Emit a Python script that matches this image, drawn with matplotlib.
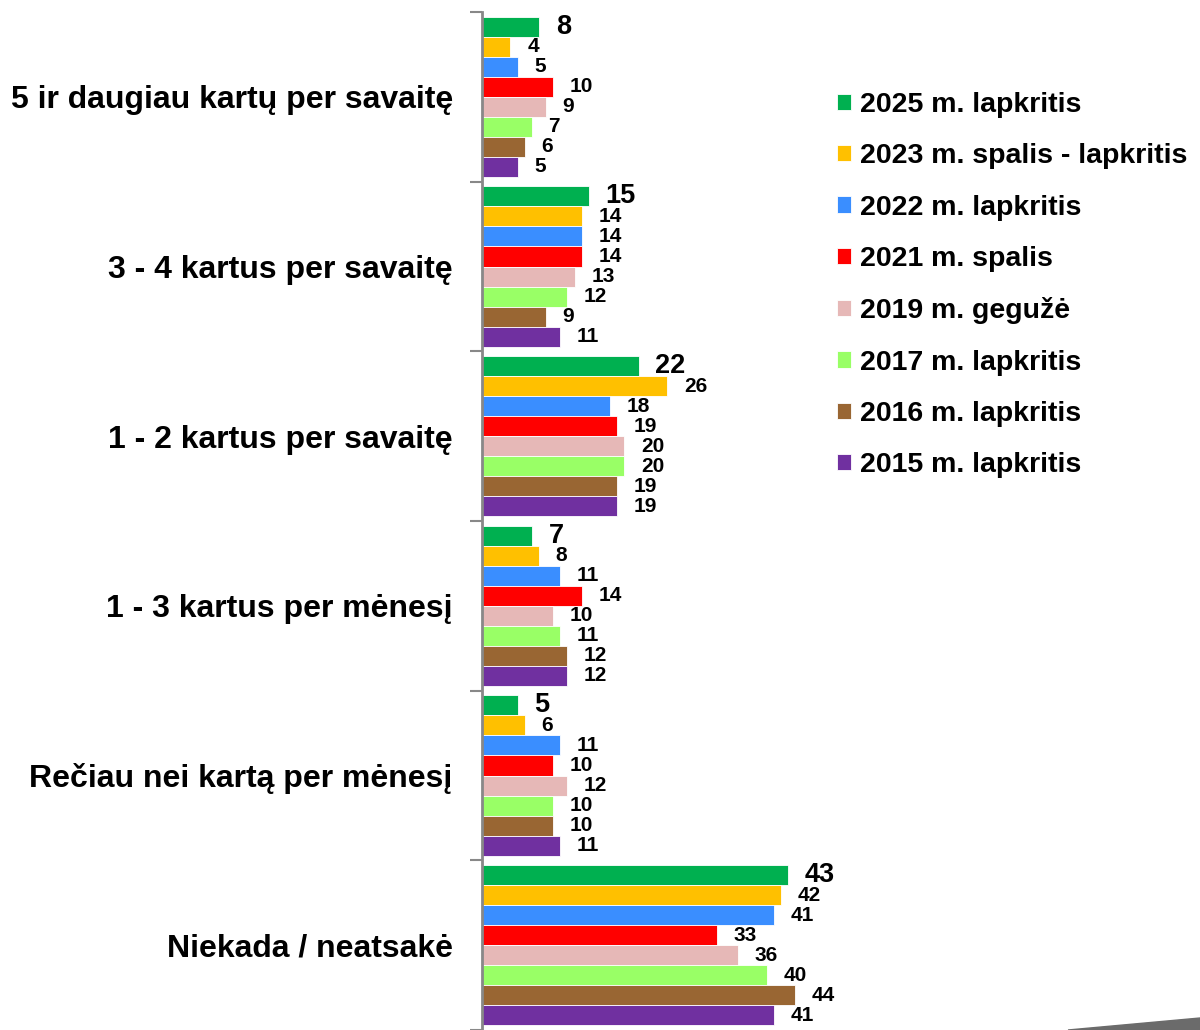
import matplotlib.pyplot as plt
import numpy as np
from matplotlib.patches import Polygon

plt.rcParams['font.family'] = ['Liberation Sans', 'DejaVu Sans']
plt.rcParams['font.weight'] = 'bold'

categories = ['5 ir daugiau kartų per savaitę', '3 - 4 kartus per savaitę',
              '1 - 2 kartus per savaitę', '1 - 3 kartus per mėnesį',
              'Rečiau nei kartą per mėnesį', 'Niekada / neatsakė']
series = ['2025 m. lapkritis', '2023 m. spalis - lapkritis', '2022 m. lapkritis',
          '2021 m. spalis', '2019 m. gegužė', '2017 m. lapkritis',
          '2016 m. lapkritis', '2015 m. lapkritis']
colors = ['#00B050', '#FFC000', '#3A8EFF', '#FF0000', '#E6B8B7', '#99FF66',
          '#996633', '#7030A0']

v2025 = [8, 15, 22, 7, 5, 43]
v2023 = [4, 14, 26, 8, 6, 42]
v2022 = [5, 14, 18, 11, 11, 41]
v2021 = [10, 14, 19, 14, 10, 33]
v2019 = [9, 13, 20, 10, 12, 36]
v2017 = [7, 12, 20, 11, 10, 40]
v2016 = [6, 9, 19, 12, 10, 44]
v2015 = [5, 11, 19, 12, 11, 41]
values = [v2025, v2023, v2022, v2021, v2019, v2017, v2016, v2015]

fig = plt.figure(figsize=(12, 10.3), dpi=100)
ax = fig.add_axes([482 / 1200, 0.0, 718 / 1200, 1 - 12 / 1030])

y = np.arange(len(categories))
bar_h = 0.118
handles = []
for j, (name, vals, c) in enumerate(zip(series, values, colors)):
    pos = y + (j - 3.5) * bar_h
    bars = ax.barh(pos, vals, height=bar_h, color=c, label=name,
                   edgecolor='white', linewidth=0.6)
    handles.append(bars)
    fs = 19.5 if j == 0 else 15
    for p, v in zip(pos, vals):
        ax.annotate(str(v), (v, p), xytext=(12, 0), textcoords='offset points',
                    ha='left', va='center', fontsize=fs, fontweight='bold')

ax.set_xlim(0, 718 / 7.12)
ax.set_ylim(len(categories) - 0.5, -0.5)

# boundaries as major ticks, category names as minor ticks
ax.set_yticks(np.arange(len(categories) + 1) - 0.5)
ax.set_yticklabels([])
ax.tick_params(axis='y', which='major', length=9, width=1.5, color='#888888')
ax.set_yticks(y, minor=True)
ax.set_yticklabels(categories, minor=True, fontsize=23, fontweight='bold')
ax.tick_params(axis='y', which='minor', length=0, pad=21)
ax.set_xticks([])
for s in ['top', 'right', 'bottom']:
    ax.spines[s].set_visible(False)
ax.spines['left'].set_color('#888888')
ax.spines['left'].set_linewidth(2)

fig.legend(handles=handles, loc='upper left',
           bbox_to_anchor=(837 / 1200, 1 - 92 / 1030), frameon=False,
           fontsize=20.5, handlelength=0.5, handleheight=0.5,
           handletextpad=0.3, labelspacing=0.89, borderpad=0, borderaxespad=0)

# grey shadow wedge in the lower right corner
fig.patches.append(Polygon([[1068 / 1200, 0], [1, 12 / 1030], [1, 0]],
                           closed=True, transform=fig.transFigure,
                           color='#6b6b6b', zorder=0))

fig.savefig('out.png', dpi=100)
